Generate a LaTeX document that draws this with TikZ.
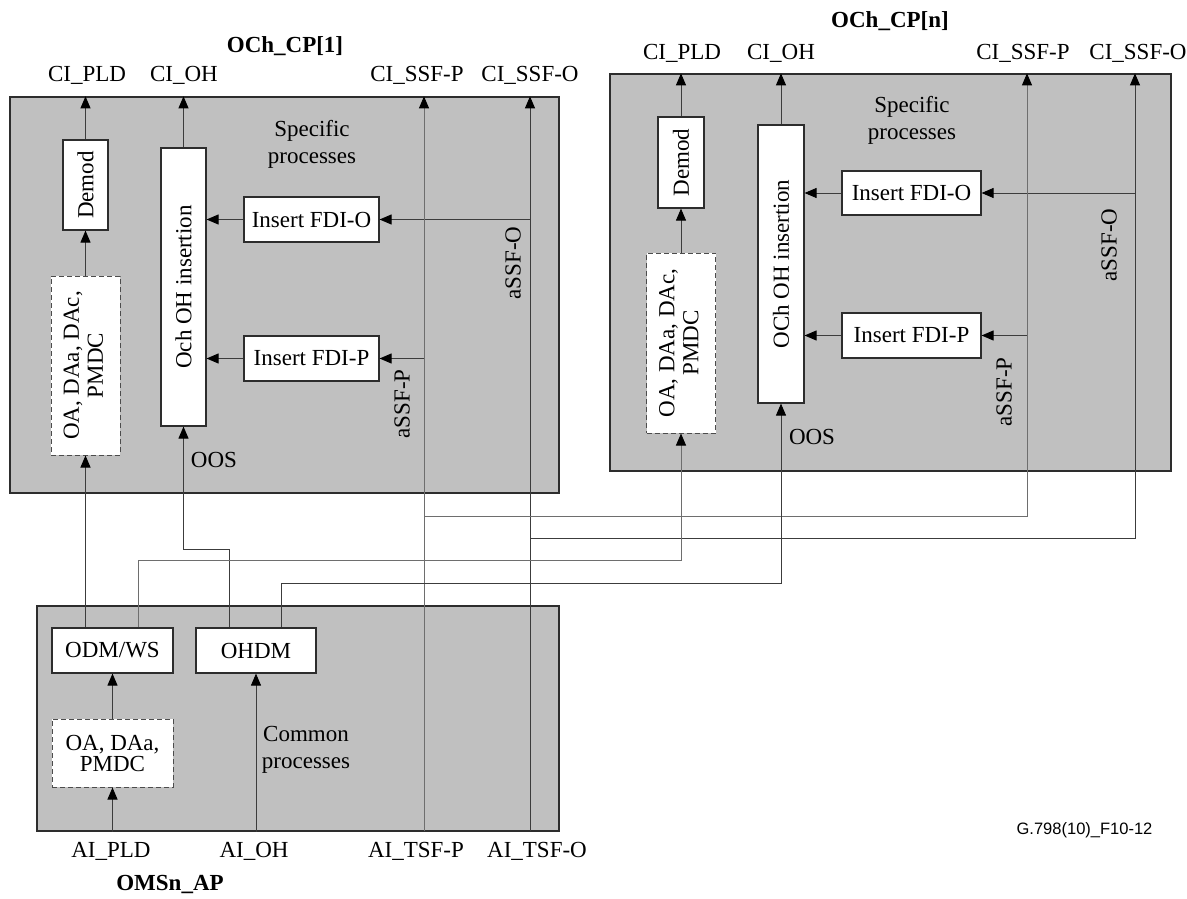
\documentclass[tikz,border=0pt]{standalone}
\usepackage{fontspec}
\setmainfont{Liberation Serif}
\newfontfamily\figsans{Liberation Sans}
\usetikzlibrary{arrows.meta}
\definecolor{boxgray}{RGB}{192,192,192}
\definecolor{edgec}{RGB}{45,45,45}
\definecolor{wirec}{RGB}{60,60,60}
\definecolor{wirel}{RGB}{110,110,110}
\begin{document}
\begin{tikzpicture}[x=1pt,y=-1pt,
  font=\fontsize{23}{27}\selectfont,
  panel/.style={draw=edgec,line width=1.3pt,fill=boxgray,inner sep=0pt},
  proc/.style={draw=edgec,line width=1.2pt,fill=white,inner sep=0pt,align=center},
  optproc/.style={proc,draw=edgec!85,line width=1pt,dash pattern=on 5pt off 3pt},
  wire/.style={draw=wirec,line width=0.9pt},
  lwire/.style={draw=wirel,line width=0.9pt},
  arr/.style={wire,-{Triangle[length=12pt,width=10pt,color=black]}},
  larr/.style={lwire,-{Triangle[length=12pt,width=10pt,color=black]}},
  lbl/.style={inner sep=0pt,align=center},
  ttl/.style={inner sep=0pt,font=\bfseries\fontsize{23}{27}\selectfont}]
\useasboundingbox (0,0) rectangle (1187,899);

% panels
\node[panel,minimum width=549,minimum height=396] (cp1) at (284.5,295) {};
\node[panel,minimum width=561,minimum height=397] (cp2) at (890.5,272.5) {};
\node[panel,minimum width=522,minimum height=225] (cp3) at (298,718.5) {};

% titles and port labels
\node[ttl] (t1) at (285,46) {OCh\_CP[1]};
\node[lbl] (c1pld) at (87,75) {CI\_PLD};
\node[lbl] (c1oh) at (184,75) {CI\_OH};
\node[lbl] (c1sp) at (417,75) {CI\_SSF-P};
\node[lbl] (c1so) at (530,75) {CI\_SSF-O};

\node[ttl] (t2) at (890,21) {OCh\_CP[n]};
\node[lbl] (c2pld) at (682,53) {CI\_PLD};
\node[lbl] (c2oh) at (781,53) {CI\_OH};
\node[lbl] (c2sp) at (1023,53) {CI\_SSF-P};
\node[lbl] (c2so) at (1138,53) {CI\_SSF-O};

\node[lbl] (a3pld) at (111,851) {AI\_PLD};
\node[lbl] (a3oh) at (254,851) {AI\_OH};
\node[lbl] (a3tp) at (416,851) {AI\_TSF-P};
\node[lbl] (a3to) at (537,851) {AI\_TSF-O};
\node[ttl] (t3) at (170,884) {OMSn\_AP};

\node[lbl,font=\figsans\fontsize{16.5}{18}\selectfont] (fig) at (1084.5,830) {G.798(10)\_F10-12};

% inner texts
\node[lbl] (sp1) at (312,144.5) {Specific\\processes};
\node[lbl] (sp2) at (912,120.5) {Specific\\processes};
\node[lbl] (cm3) at (306,750) {Common\\processes};
\node[lbl,rotate=90] (asso1) at (513,263) {aSSF-O};
\node[lbl,rotate=90] (assp1) at (402,404) {aSSF-P};
\node[lbl,rotate=90] (asso2) at (1109,245) {aSSF-O};
\node[lbl,rotate=90] (assp2) at (1004,392) {aSSF-P};
\node[lbl] (oos1) at (214,460) {OOS};
\node[lbl] (oos2) at (812,437) {OOS};

% process blocks CP1
\node[proc,minimum width=45,minimum height=90] (demod1) at (85.5,185) {\rotatebox{90}{Demod}};
\node[proc,minimum width=45,minimum height=278] (och1) at (183.5,287) {\rotatebox{90}{Och OH insertion}};
\node[proc,minimum width=135,minimum height=45] (fdio1) at (311.5,219.5) {Insert FDI-O};
\node[proc,minimum width=135,minimum height=45] (fdip1) at (311.5,358.5) {Insert FDI-P};
\node[optproc,minimum width=69,minimum height=179] (dash1) at (85.5,365.5) {\rotatebox{90}{\begin{tabular}{@{}c@{}}OA, DAa, DAc,\\[-3pt]PMDC\end{tabular}}};

% process blocks CPn
\node[proc,minimum width=46,minimum height=91] (demod2) at (681,162.5) {\rotatebox{90}{Demod}};
\node[proc,minimum width=46,minimum height=278] (och2) at (781,264) {\rotatebox{90}{OCh OH insertion}};
\node[proc,minimum width=139,minimum height=44] (fdio2) at (911.5,193) {Insert FDI-O};
\node[proc,minimum width=139,minimum height=45] (fdip2) at (911.5,335.5) {Insert FDI-P};
\node[optproc,minimum width=69,minimum height=180] (dash2) at (681,343) {\rotatebox{90}{\begin{tabular}{@{}c@{}}OA, DAa, DAc,\\[-3pt]PMDC\end{tabular}}};

% process blocks OMS
\node[proc,minimum width=121,minimum height=45] (odm) at (112.5,650.5) {ODM/WS};
\node[proc,minimum width=120,minimum height=45] (ohdm) at (256,650.5) {OHDM};
\node[optproc,minimum width=121,minimum height=68,font=\fontsize{23}{21}\selectfont] (dash3) at (112.5,753) {OA, DAa,\\PMDC};

% junction coordinates
\coordinate (tsfp) at (424,831);
\coordinate (tsfo) at (530,831);
\coordinate (jp) at (424,516);
\coordinate (jo) at (530,538);
\coordinate (vp2) at (1027,516);
\coordinate (vo2) at (1135,538);

% CP1 wiring
\draw[arr] (demod1.south |- dash1.north) -- (demod1.south);
\draw[arr] (demod1.north) -- (demod1.north |- cp1.north);
\draw[arr] (och1.north) -- (och1.north |- cp1.north);
\draw[arr] (fdio1.west) -- (fdio1.west -| och1.east);
\draw[arr] (fdip1.west) -- (fdip1.west -| och1.east);
\draw[arr] (tsfo |- fdio1.east) -- (fdio1.east);
\draw[arr] (tsfp |- fdip1.east) -- (fdip1.east);
\draw[larr] (tsfp) -- (tsfp |- cp1.north);
\draw[arr] (tsfo) -- (tsfo |- cp1.north);

% CPn wiring
\draw[arr] (demod2.south |- dash2.north) -- (demod2.south);
\draw[arr] (demod2.north) -- (demod2.north |- cp2.north);
\draw[arr] (och2.north) -- (och2.north |- cp2.north);
\draw[arr] (fdio2.west) -- (fdio2.west -| och2.east);
\draw[arr] (fdip2.west) -- (fdip2.west -| och2.east);
\draw[arr] (vo2 |- fdio2.east) -- (fdio2.east);
\draw[arr] (vp2 |- fdip2.east) -- (fdip2.east);
\draw[larr] (jp) -- (vp2) -- (vp2 |- cp2.north);
\draw[arr] (jo) -- (vo2) -- (vo2 |- cp2.north);

% OMS wiring
\draw[arr] (dash3.south |- cp3.south) -- (dash3.south);
\draw[arr] (dash3.north) -- (odm.south);
\draw[arr] (ohdm.south |- cp3.south) -- (ohdm.south);
\draw[arr] (demod1.south |- odm.north) -- (demod1.south |- dash1.south);
\draw[arr] ([xshift=-27pt]ohdm.north) -- ++(0,-78) -| (och1.south);
\draw[larr] ([xshift=25.5pt]odm.north) -- ++(0,-67) -| (dash2.south);
\draw[arr] ([xshift=25pt]ohdm.north) -- ++(0,-44) -| (och2.south);
\end{tikzpicture}
\end{document}
